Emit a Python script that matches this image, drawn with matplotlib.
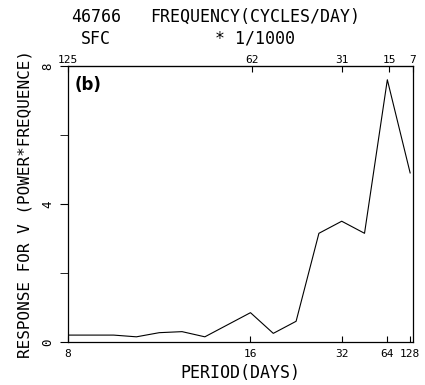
import matplotlib
matplotlib.use("Agg")
from matplotlib import pyplot as plt
import numpy as np

plt.rcParams["font.family"] = ["DejaVu Sans Mono"]

# spectral estimates at frequencies k/128 cycles/day
k = [16, 15, 14, 13, 12, 11, 10, 9, 8, 7, 6, 5, 4, 3, 2, 1]
response = [0.2, 0.2, 0.2, 0.15, 0.27, 0.3, 0.15, 0.5, 0.85, 0.25, 0.6, 3.15, 3.5, 3.15, 7.6, 4.9]

period_ticks = [8, 16, 32, 64, 128]
period_labels = ["8", "16", "32", "64", "128"]
freq_ticks = [125, 62, 31, 15, 7]
y_ticks = [0, 4, 8]

freq = np.array(k) / 128.0

fig = plt.figure(figsize=(4.25, 3.85), dpi=100)
ax = fig.add_axes([0.16, 0.1117, 0.812, 0.717])

ax.plot(freq, response, color="black", lw=0.8)

ax.set_xlim(0.125, 0.0068)
ax.set_ylim(0, 8)

ax.set_xticks([1 / p for p in period_ticks])
ax.set_xticklabels(period_labels, fontsize=8)
ax.tick_params(axis="x", direction="in", length=4, pad=5)

ax.set_yticks(y_ticks)
ax.set_yticklabels([str(v) for v in y_ticks], rotation=90, va="center", fontsize=9)
ax.set_yticks([2, 6], minor=True)
ax.tick_params(axis="y", which="both", direction="out", length=6, pad=4)

top = ax.secondary_xaxis("top")
top.set_xticks([f / 1000 for f in freq_ticks])
top.set_xticklabels([str(f) for f in freq_ticks], fontsize=8)
top.tick_params(direction="in", length=4, pad=1)

for s in ax.spines.values():
    s.set_linewidth(0.9)

ax.set_xlabel("PERIOD(DAYS)", fontsize=12, labelpad=4)
ax.set_ylabel("RESPONSE FOR V (POWER*FREQUENCE)", fontsize=11.5, labelpad=6)

fig.text(0.225, 0.955, "46766", fontsize=12, ha="center", va="center")
fig.text(0.6, 0.955, "FREQUENCY(CYCLES/DAY)", fontsize=12, ha="center", va="center")
fig.text(0.225, 0.9, "SFC", fontsize=12, ha="center", va="center")
fig.text(0.6, 0.9, "* 1/1000", fontsize=12, ha="center", va="center")

ax.text(0.02, 0.93, "(b)", transform=ax.transAxes, fontsize=12,
        fontweight="bold", family="DejaVu Sans", ha="left", va="center")

fig.savefig("out.png", dpi=100)
